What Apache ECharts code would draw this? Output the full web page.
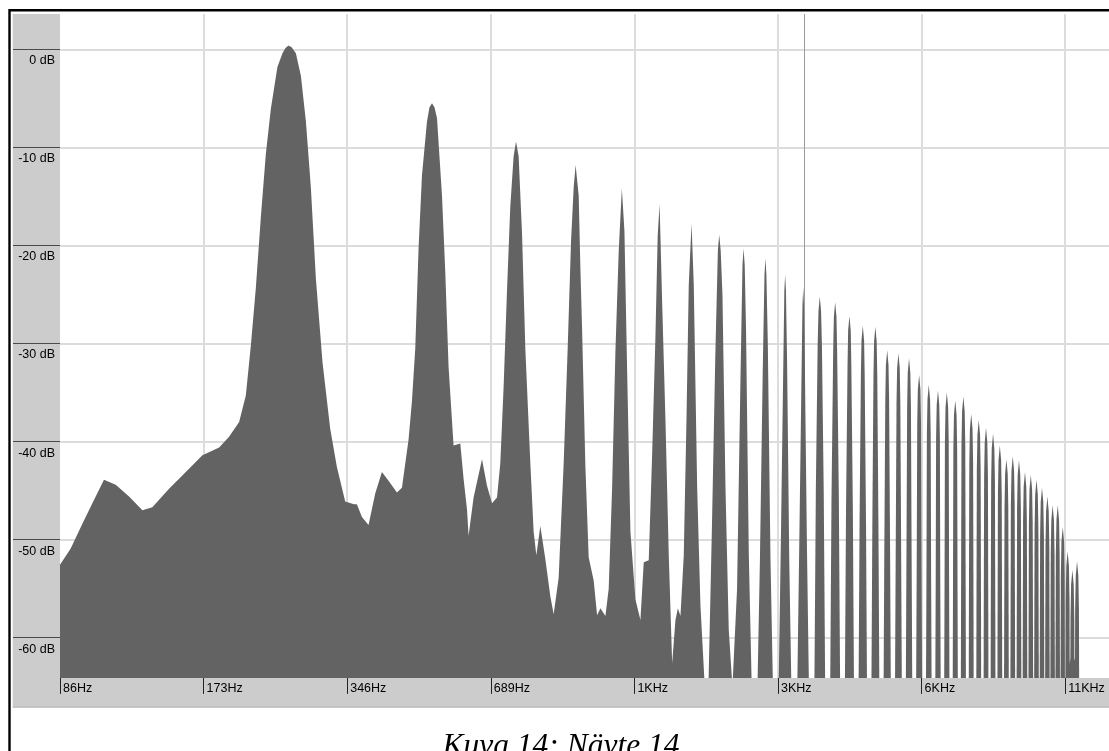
<!DOCTYPE html>
<html>
<head>
<meta charset="utf-8">
<script src="https://cdn.jsdelivr.net/npm/echarts@6/dist/echarts.min.js"></script>
<style>
  html, body { margin: 0; padding: 0; background: #ffffff; }
  #chart { width: 1109px; height: 751px; }
</style>
</head>
<body>
<div id="chart"></div>
<script>
// ---------------- DATA ----------------
const refHz = 86.13;                       // frequency of the first axis tick
const xTickLabels = ['86Hz', '173Hz', '346Hz', '689Hz', '1KHz', '3KHz', '6KHz', '11KHz'];
const xTickOctaves = [0, 1, 2, 3, 4, 5, 6, 7];
const yTickValues = [-60, -50, -40, -30, -20, -10, 0];
const cursorHz = 3125;
const captionText = 'Kuva 14: Näyte 14';

// continuous spectrum outline, [Hz, dB]
const lowTrace = [
  [86, -52.6], [90.7, -50.9], [95.9, -48.4], [100.7, -46.3], [106.5, -43.9], [112.7, -44.4],
  [120.2, -45.6], [128.2, -47.0], [134.5, -46.7], [145.8, -44.8], [158.1, -43.1], [171.3, -41.4],
  [185.7, -40.6], [194.8, -39.5], [204.5, -38.0], [211.2, -35.3], [216.4, -30.2], [221.7, -24.3],
  [227.1, -17.1], [232.6, -10.7], [238.3, -6.1], [246.0, -1.8], [252.1, -0.4], [255.5, 0.1],
  [259.4, 0.4], [263.5, 0.2], [268.9, -0.4], [275.5, -2.7], [282.2, -7.3], [289.1, -14.1],
  [296.2, -23.4], [305.8, -31.9], [317.4, -38.7], [327.8, -42.6], [341.2, -46.1], [356.0, -46.4],
  [361.0, -46.4], [369.9, -47.7], [381.9, -48.5], [394.4, -45.3], [407.4, -43.1], [420.6, -44.0],
  [438.0, -45.2], [448.7, -44.7], [463.3, -39.8], [470.9, -35.9], [478.5, -30.5], [486.2, -20.3],
  [494.2, -12.9], [506.3, -7.4], [512.5, -5.9], [518.8, -5.5], [525.0, -5.9], [531.4, -7.0],
  [544.4, -14.9], [553.1, -22.7], [562.0, -32.4], [575.7, -40.4], [594.7, -40.2], [604.2, -43.8],
  [614.2, -46.9], [619.0, -49.6], [634.1, -45.7], [660.4, -41.8], [676.5, -44.5], [693.1, -46.3],
  [710.0, -45.7], [721.4, -42.2], [733.0, -34.4], [745.1, -24.6], [757.1, -16.0], [769.3, -10.9],
  [778.2, -9.4], [788.1, -10.9], [801.2, -18.8], [814.0, -30.5], [833.9, -42.2], [847.3, -49.2],
  [858.4, -51.6], [875.2, -48.6], [896.6, -52.0], [918.5, -55.8], [933.3, -57.6], [956.1, -53.9],
  [979.5, -42.2], [998.6, -30.5], [1015.1, -19.5], [1028.0, -14.1], [1037.6, -11.8], [1053.1, -14.9],
  [1061.8, -22.3], [1070.5, -28.5], [1087.7, -42.5], [1105.2, -51.8], [1132.3, -54.2], [1151.0, -57.7],
  [1169.5, -57.0], [1198.1, -57.8], [1217.3, -55.0], [1237.5, -44.7], [1257.3, -30.9], [1277.6, -20.6],
  [1297.0, -14.2], [1313.3, -18.5], [1330.5, -32.7], [1351.9, -49.2], [1385.0, -56.1], [1418.8, -58.2],
  [1441.6, -52.3], [1476.9, -52.1], [1501.3, -41.3], [1525.5, -29.2], [1542.0, -19.0], [1556.4, -15.8],
  [1575.6, -25.8], [1600.9, -37.8], [1626.7, -51.6], [1653.6, -62.6], [1680.1, -58.2], [1700.0, -57.0],
  [1721.2, -57.8], [1748.9, -51.6], [1771.9, -37.8], [1791.6, -24.0], [1815.8, -17.8], [1835.4, -24.0],
  [1865.8, -44.7], [1895.8, -56.8], [1935.6, -65],
  [1970, -65], [2003, -49.0], [2036, -31.5], [2062, -20.5], [2075, -18.9], [2090, -20.5], [2108, -25.0], [2139, -44.7], [2173, -59.2], [2212, -65],
  [2232, -65], [2262, -55.0], [2298, -34.4], [2322, -22.0], [2334, -20.3], [2347, -22.0], [2362, -28.5], [2394, -51.6], [2428, -65],
  [2496, -65], [2526, -52.0], [2560, -33.0], [2582, -23.0], [2594, -21.3], [2606, -23.0], [2624, -30.0], [2658, -52.0], [2690, -65],
  [2764, -65], [2795, -50.0], [2826, -33.0], [2842, -24.6], [2853, -23.0], [2864, -24.6], [2880, -32.0], [2910, -52.0], [2940, -65],
  [3025, -65], [3055, -50.0], [3086, -34.0], [3102, -26.0], [3113, -24.3], [3124, -26.0], [3139, -33.0], [3170, -51.0], [3200, -65]
];

// narrow harmonic peaks above 3.3 kHz
const harmonicHz = [3372, 3632, 3891, 4150, 4410, 4669, 4929, 5188, 5447, 5707, 5966, 6226, 6485,
  6744, 7004, 7263, 7523, 7782, 8041, 8301, 8560, 8820, 9079, 9338, 9598, 9857, 10117, 10376,
  10635, 10895, 11154, 11414, 11673];
const harmonicDb = [-25.2, -25.8, -27.2, -28.2, -28.3, -30.7, -31.0, -31.5, -33.2, -34.2, -34.8,
  -35.0, -35.8, -35.4, -37.2, -37.8, -38.6, -39.2, -40.4, -41.8, -41.5, -41.9, -43.1, -43.4,
  -43.9, -44.7, -45.6, -46.5, -46.5, -48.7, -51.2, -53.1, -52.2];

// low-level floor at the top end
const tailTrace = [[11080, -65], [11110, -63.0], [11250, -62.6], [11350, -62.0], [11500, -62.4],
  [11600, -61.8], [11700, -62.2], [11730, -65]];

// ---------------- STYLE ----------------
const FILL = '#636363';
const PANEL = '#cccccc';
const GRIDLINE = '#dcdcdc';
const SANS = '"Liberation Sans", Arial, sans-serif';
// shape of one narrow peak glyph: dB below the top, half width in Hz, minimum half width in px
const GLYPH_DB = [-1.5, -5, -20, -45, -90];
const GLYPH_HZ = [14, 35, 65, 95, 120];
const GLYPH_MINPX = [1.3, 1.9, 2.3, 2.7, 2.9];

const toOct = hz => Math.log2(hz / refHz);

const chart = echarts.init(document.getElementById('chart'), null, { renderer: 'canvas' });

const option = {
  animation: false,
  backgroundColor: '#ffffff',
  grid: { left: 60, top: 14, width: 1049, height: 663.9, containLabel: false },
  xAxis: {
    type: 'value', min: 0, max: 7.305, position: 'bottom',
    axisLine: { show: false, onZero: false },
    splitLine: { show: false },
    axisTick: {
      show: true, customValues: xTickOctaves, length: 16, inside: false,
      lineStyle: { color: '#222', width: 1 }
    },
    axisLabel: {
      customValues: xTickOctaves, showMinLabel: true, showMaxLabel: true,
      formatter: v => xTickLabels[Math.round(v)] || '',
      align: 'left', margin: 4, padding: [0, 0, 0, 3],
      color: '#000', fontSize: 12.5, fontFamily: SANS
    }
  },
  yAxis: {
    type: 'value', min: -64.1, max: 3.6, position: 'left',
    axisLine: { show: false, onZero: false },
    splitLine: { show: false },
    axisTick: {
      show: true, customValues: yTickValues, length: 47, inside: false,
      lineStyle: { color: '#4a4a4a', width: 1 }
    },
    axisLabel: {
      customValues: yTickValues, showMinLabel: true, showMaxLabel: true,
      formatter: v => v + ' dB',
      verticalAlign: 'top', padding: [5, 0, 0, 0], margin: 5,
      color: '#000', fontSize: 12.5, fontFamily: SANS
    }
  },
  graphic: {
    elements: [
      { type: 'rect', z: -1, shape: { x: 12.7, y: 14, width: 47.3, height: 664 }, style: { fill: PANEL } },
      { type: 'rect', z: -1, shape: { x: 12.7, y: 677.9, width: 1100, height: 28.6 }, style: { fill: PANEL } },
      { type: 'rect', z: -1, shape: { x: 12.7, y: 706.3, width: 1100, height: 1.5 }, style: { fill: '#b4b4b4' } },
      { type: 'rect', z: 100, shape: { x: 9.5, y: 10.2, width: 1400, height: 1000 },
        style: { fill: 'none', stroke: '#000', lineWidth: 2.4 } },
      { type: 'text', z: 100, x: 561, y: 747,
        style: { text: captionText, font: 'italic 31.5px "Liberation Serif", "Times New Roman", serif',
                 fill: '#000', textAlign: 'center', textVerticalAlign: 'middle' } }
    ]
  },
  series: [
    {
      // grid lines and cursor line (kept beneath the spectrum fill)
      type: 'line', z: 1, data: [[0, -100]], symbol: 'none', lineStyle: { opacity: 0 }, silent: true,
      markLine: {
        silent: true, symbol: ['none', 'none'], label: { show: false }, animation: false,
        lineStyle: { color: GRIDLINE, width: 2, type: 'solid' },
        emphasis: { disabled: true },
        data: [
          ...yTickValues.map(v => ({ yAxis: v })),
          ...xTickOctaves.filter(v => v > 0).map(v => ({ xAxis: v })),
          { xAxis: toOct(cursorHz), lineStyle: { color: '#9a9a9a', width: 1, type: 'solid' } }
        ]
      }
    },
    {
      type: 'line', z: 10, data: lowTrace.map(([hz, db]) => [toOct(hz), db]),
      symbol: 'none', smooth: false, clip: true, silent: true,
      lineStyle: { width: 0, color: FILL },
      areaStyle: { color: FILL, opacity: 1, origin: 'start' }
    },
    {
      type: 'line', z: 10, data: tailTrace.map(([hz, db]) => [toOct(hz), db]),
      symbol: 'none', clip: true, silent: true,
      lineStyle: { width: 0, color: FILL },
      areaStyle: { color: FILL, opacity: 1, origin: 'start' }
    },
    {
      type: 'custom', z: 10, clip: true, silent: true,
      data: harmonicHz.map((hz, i) => [toOct(hz), harmonicDb[i], hz]),
      encode: { x: 0, y: 1 },
      renderItem: function (params, api) {
        const oct = api.value(0), db = api.value(1), hz = api.value(2);
        const top = api.coord([oct, db]);
        const left = [], right = [];
        for (let i = 0; i < GLYPH_DB.length; i++) {
          const y = api.coord([oct, db + GLYPH_DB[i]])[1];
          const wHz = api.coord([toOct(hz + GLYPH_HZ[i]), db])[0] - top[0];
          const w = Math.max(wHz, GLYPH_MINPX[i]);
          left.push([top[0] - w, y]);
          right.push([top[0] + w, y]);
        }
        const points = left.slice().reverse().concat([top], right);
        return { type: 'polygon', shape: { points: points }, style: { fill: FILL } };
      }
    }
  ]
};
chart.setOption(option);
</script>
</body>
</html>
